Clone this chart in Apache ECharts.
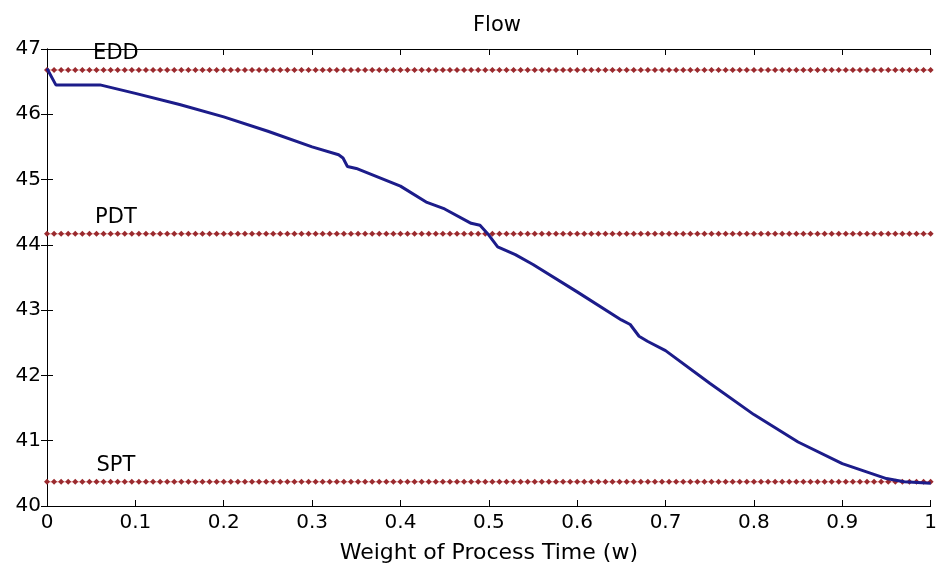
<!DOCTYPE html>
<html>
<head>
<meta charset="utf-8">
<script src="https://cdn.jsdelivr.net/npm/echarts@6/dist/echarts.min.js"></script>
<style>html,body{margin:0;padding:0;background:#fff;}#c{width:940px;height:570px;}</style>
</head>
<body>
<div id="c"></div>
<script>
// Data
var titleText = 'Flow';
var xAxisName = 'Weight of Process Time (w)';
var weightX = [0, 0.01, 0.06, 0.1, 0.15, 0.2, 0.25, 0.3, 0.33, 0.335, 0.34, 0.35, 0.4, 0.43, 0.45, 0.48, 0.49, 0.5, 0.51, 0.53, 0.55, 0.6, 0.65, 0.66, 0.67, 0.68, 0.7, 0.75, 0.8, 0.85, 0.9, 0.95, 0.97, 1.0];
var flowY   = [46.70, 46.45, 46.45, 46.32, 46.15, 45.96, 45.74, 45.50, 45.38, 45.33, 45.20, 45.17, 44.90, 44.65, 44.55, 44.33, 44.30, 44.15, 43.97, 43.85, 43.70, 43.28, 42.85, 42.78, 42.60, 42.52, 42.38, 41.88, 41.40, 40.98, 40.65, 40.42, 40.37, 40.35];
var refNames  = ['EDD', 'PDT', 'SPT'];
var refValues = [46.68, 44.17, 40.37];
var refLabelX = 0.078;
var yTicks = [40, 41, 42, 43, 44, 45, 46, 47];
var xTicks = [0, 0.1, 0.2, 0.3, 0.4, 0.5, 0.6, 0.7, 0.8, 0.9, 1];

var FONT = '"DejaVu Sans", "Liberation Sans", Arial, sans-serif';
var chart = echarts.init(document.getElementById('c'), null, {renderer: 'canvas'});

// marker sample positions for the constant reference lines
var markerStep = 0.008;
var markerX = [];
for (var i = 0; i * markerStep <= 1.0000001; i++) markerX.push(+(i * markerStep).toFixed(4));

function refSeries(name, val) {
  var data = markerX.map(function (x) { return [x, val]; });
  data.push({value: [refLabelX, val], symbolSize: 0,
    label: {show: true, position: 'top', distance: 6, formatter: name,
      color: '#000', fontSize: 21, fontFamily: FONT}});
  data.sort(function (a, b) { var ax = a.value ? a.value[0] : a[0]; var bx = b.value ? b.value[0] : b[0]; return ax - bx; });
  return {
    type: 'line', name: name, data: data,
    symbol: 'diamond', symbolSize: 6, showSymbol: true,
    itemStyle: {color: '#9a2a2e'},
    lineStyle: {color: 'rgba(230,120,120,0.55)', width: 1.5},
    silent: true, animation: false, z: 2
  };
}

var series = refNames.map(function (n, i) { return refSeries(n, refValues[i]); });
series.push({
  type: 'line', name: 'Flow',
  data: weightX.map(function (x, i) { return [x, flowY[i]]; }),
  showSymbol: false, symbol: 'none',
  lineStyle: {color: '#1c1c8a', width: 3},
  animation: false, z: 3
});

var axisLine = {show: true, lineStyle: {color: '#000', width: 1}};
chart.setOption({
  backgroundColor: '#fff',
  title: {text: titleText, left: 492, top: 10, textAlign: 'center',
    textStyle: {fontFamily: FONT, fontSize: 21, fontWeight: 'normal', color: '#000'}},
  grid: {left: 47, right: 2, top: 49, bottom: 64, containLabel: false},
  xAxis: [{
    type: 'value', min: 0, max: 1, interval: 0.1, position: 'bottom',
    axisLine: axisLine,
    axisTick: {show: true, inside: true, length: 6, lineStyle: {color: '#000'}},
    axisLabel: {color: '#000', fontSize: 20, fontFamily: FONT, margin: 7,
      formatter: function (v) { return String(+v.toFixed(1)); }},
    splitLine: {show: false},
    name: xAxisName, nameLocation: 'middle', nameGap: 36,
    nameTextStyle: {color: '#000', fontSize: 22, fontFamily: FONT}
  }, {
    type: 'value', min: 0, max: 1, interval: 0.1, position: 'top',
    axisLine: axisLine,
    axisTick: {show: true, inside: true, length: 6, lineStyle: {color: '#000'}},
    axisLabel: {show: false}, splitLine: {show: false}
  }],
  yAxis: [{
    type: 'value', min: 40, max: 47, interval: 1, position: 'left',
    axisLine: axisLine,
    axisTick: {show: true, inside: true, length: 6, lineStyle: {color: '#000'}},
    axisLabel: {color: '#000', fontSize: 20, fontFamily: FONT, margin: 6},
    splitLine: {show: false}
  }, {
    type: 'value', min: 40, max: 47, interval: 1, position: 'right',
    axisLine: axisLine,
    axisTick: {show: true, inside: true, length: 6, lineStyle: {color: '#000'}},
    axisLabel: {show: false}, splitLine: {show: false}
  }],
  series: series
});
</script>
</body>
</html>
